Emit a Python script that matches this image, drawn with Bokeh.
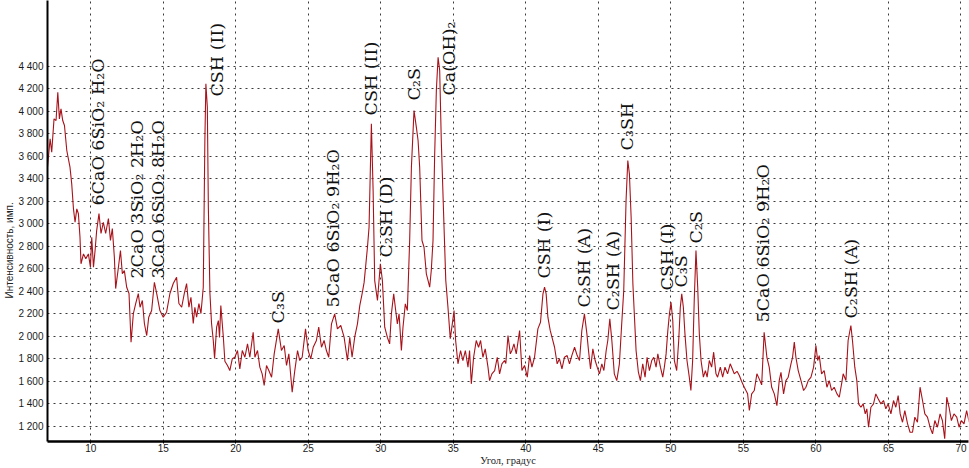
import math
from bokeh.plotting import figure
from bokeh.models import FixedTicker, Range1d, Title
from bokeh.core.properties import value
from bokeh.embed import file_html
from bokeh.resources import INLINE

# ---- data -----------------------------------------------------------------
two_theta = [
    7.02, 7.20, 7.31, 7.47, 7.61, 7.73, 7.84, 7.95, 8.07, 8.19, 8.35, 8.46, 8.57, 8.69, 8.81, 8.92,
    9.04, 9.15, 9.26, 9.33, 9.50, 9.66, 9.84, 9.98, 10.07, 10.19, 10.30, 10.41, 10.57, 10.71, 10.87,
    11.03, 11.22, 11.36, 11.49, 11.63, 11.72, 11.91, 12.05, 12.18, 12.32, 12.48, 12.64, 12.78, 12.94,
    13.10, 13.28, 13.40, 13.56, 13.70, 13.86, 14.00, 14.20, 14.39, 14.55, 14.77, 15.00, 15.23, 15.46,
    15.69, 15.92, 16.08, 16.27, 16.45, 16.61, 16.77, 16.91, 17.07, 17.18, 17.30, 17.46, 17.60, 17.76,
    17.87, 17.94, 18.04, 18.11, 18.22, 18.33, 18.45, 18.54, 18.68, 18.80, 18.88, 18.97, 19.14, 19.25,
    19.43, 19.59, 19.76, 19.94, 20.12, 20.28, 20.45, 20.63, 20.81, 20.97, 21.20, 21.32, 21.50, 21.66,
    21.82, 21.96, 22.12, 22.28, 22.47, 22.65, 22.93, 23.15, 23.34, 23.50, 23.66, 23.89, 24.07, 24.26,
    24.41, 24.58, 24.81, 24.99, 25.17, 25.34, 25.56, 25.72, 25.91, 26.09, 26.25, 26.41, 26.60, 26.82,
    27.01, 27.24, 27.47, 27.70, 27.86, 28.02, 28.20, 28.39, 28.55, 28.71, 28.85, 29.08, 29.19, 29.35,
    29.47, 29.58, 29.77, 29.97, 30.11, 30.27, 30.45, 30.61, 30.73, 30.89, 31.00, 31.14, 31.26, 31.42,
    31.53, 31.69, 31.83, 31.99, 32.11, 32.29, 32.45, 32.57, 32.68, 32.84, 32.98, 33.14, 33.26, 33.37,
    33.48, 33.60, 33.71, 33.83, 33.95, 34.06, 34.17, 34.36, 34.48, 34.63, 34.79, 34.93, 35.05, 35.16,
    35.32, 35.50, 35.66, 35.83, 36.01, 36.12, 36.24, 36.40, 36.58, 36.74, 36.88, 37.04, 37.20, 37.39,
    37.50, 37.66, 37.85, 38.03, 38.19, 38.35, 38.53, 38.62, 38.77, 38.93, 39.04, 39.18, 39.34, 39.57,
    39.73, 39.91, 40.10, 40.26, 40.42, 40.60, 40.83, 41.01, 41.18, 41.29, 41.40, 41.52, 41.68, 41.80,
    41.98, 42.16, 42.32, 42.49, 42.66, 42.85, 43.01, 43.17, 43.36, 43.54, 43.70, 43.86, 44.04, 44.21,
    44.32, 44.46, 44.62, 44.78, 44.92, 45.08, 45.24, 45.38, 45.54, 45.65, 45.79, 45.93, 46.10, 46.27,
    46.45, 46.61, 46.75, 46.91, 47.03, 47.14, 47.26, 47.38, 47.49, 47.60, 47.76, 47.90, 48.06, 48.22,
    48.36, 48.52, 48.68, 48.82, 48.98, 49.10, 49.28, 49.44, 49.55, 49.67, 49.79, 49.90, 50.01, 50.13,
    50.24, 50.40, 50.54, 50.65, 50.75, 50.86, 50.97, 51.11, 51.27, 51.38, 51.50, 51.61, 51.73, 51.85,
    51.96, 52.08, 52.24, 52.38, 52.50, 52.65, 52.81, 52.95, 53.11, 53.22, 53.41, 53.57, 53.73, 53.91,
    54.09, 54.37, 54.56, 54.72, 54.88, 55.06, 55.29, 55.41, 55.57, 55.75, 55.93, 56.09, 56.26, 56.43,
    56.62, 56.78, 56.95, 57.13, 57.31, 57.47, 57.59, 57.77, 57.93, 58.09, 58.28, 58.39, 58.51, 58.62,
    58.78, 58.97, 59.15, 59.31, 59.47, 59.66, 59.84, 60.00, 60.12, 60.23, 60.39, 60.57, 60.76, 60.92,
    61.08, 61.26, 61.45, 61.61, 61.77, 61.88, 62.07, 62.22, 62.41, 62.52, 62.68, 62.82, 62.94, 63.10,
    63.26, 63.40, 63.51, 63.63, 63.79, 63.97, 64.13, 64.29, 64.48, 64.66, 64.82, 64.98, 65.17, 65.35,
    65.51, 65.67, 65.81, 65.97, 66.13, 66.32, 66.49, 66.66, 66.82, 67.00, 67.18, 67.35, 67.51, 67.69,
    67.87, 68.04, 68.20, 68.38, 68.56, 68.72, 68.88, 69.02, 69.18, 69.34, 69.52, 69.71, 69.87, 70.03,
    70.21, 70.39, 70.57,
]
intensity = [
    3503, 3755, 3636, 3932, 3917, 4169, 3932, 4021, 3917, 3873, 3651, 3577, 3503, 3355, 3133, 3014,
    3133, 3089, 2881, 2645, 2733, 2689, 2733, 2614, 2881, 2614, 2763, 2940, 3091, 2914, 3014,
    2914, 3047, 2852, 2958, 2703, 2425, 2614, 2763, 2558, 2585, 2437, 2381, 1949, 2203,
    2292, 2381, 2259, 2319, 2115, 2008, 2171, 2230, 2481, 2381, 2230, 2171, 2215, 2381,
    2470, 2526, 2292, 2259, 2381, 2470, 2259, 2348, 2115, 2259, 2171, 2292, 2203, 2437,
    3740, 4243, 4036, 3147, 2381, 2115, 1964, 1805, 2082, 2141, 1990, 2274, 2000, 1780,
    1742, 1697, 1801, 1815, 1875, 1712, 1875, 1815, 1934, 1815, 2037, 1815, 1875, 1727,
    1668, 1564, 1742, 1697, 1638, 1845, 2067, 1875, 1919, 1742, 1845, 1505, 1697, 1875,
    1786, 1815, 2067, 1875, 1801, 1904, 1964, 2082, 1904, 1964, 1875, 1815, 2112, 2200,
    2067, 2097, 1993, 1786, 1993, 1815, 1993, 2112, 2274, 2378, 2480, 2792, 2970, 3888,
    3296, 2496, 2319, 2645, 2496, 2082, 1993, 1934, 2200, 2378, 2259, 2112, 2200, 1875,
    2082, 2289, 2230, 2852, 3503, 4006, 3858, 3740, 3503, 2852, 2792, 2556, 2496, 2437,
    2585, 2852, 3592, 4184, 4479, 4361, 3740, 2970, 2496, 2259, 1979, 2112, 2230, 1964,
    1757, 1875, 1786, 1875, 1727, 1875, 1579, 1815, 1964, 1904, 1964, 1815, 1890, 1727,
    1608, 1668, 1697, 1815, 1668, 1757, 1786, 1760, 2008, 1845, 1875, 1934, 1845, 2053,
    1697, 1742, 1638, 1830, 1727, 1815, 2067, 2126, 2378, 2437, 2378, 2171, 2053, 1993,
    1904, 1757, 1801, 1712, 1815, 1830, 1757, 1830, 1904, 1830, 1786, 2053, 2200, 2023,
    1875, 1712, 1890, 1786, 1727, 1668, 1757, 1697, 1875, 1964, 2156, 1964, 1668, 1608,
    1757, 2112, 2408, 3207, 3562, 3444, 3059, 2467, 2171, 1875, 1682, 1608, 1757, 1638,
    1815, 1697, 1786, 1815, 1727, 1845, 1727, 1638, 1727, 1845, 2053, 2200, 2304, 2141,
    1786, 1697, 1964, 2259, 2378, 2259, 2023, 1786, 1638, 1520, 1786, 2319, 2763, 2437,
    2023, 1786, 1638, 1697, 1638, 1786, 1727, 1860, 1668, 1638, 1727, 1638, 1727, 1668,
    1757, 1668, 1690, 1653, 1600, 1549, 1490, 1342, 1490, 1520, 1668, 1623, 1570, 2037,
    1815, 1727, 1549, 1490, 1386, 1608, 1682, 1490, 1608, 1638, 1757, 1815, 1949, 1815,
    1697, 1608, 1520, 1549, 1608, 1638, 1727, 1919, 1786, 1830, 1668, 1697, 1549, 1608,
    1520, 1549, 1490, 1460, 1579, 1668, 1608, 1964, 2097, 1964, 1727, 1608, 1401, 1371,
    1401, 1312, 1357, 1194, 1371, 1401, 1490, 1446, 1401, 1431, 1357, 1401, 1312, 1431,
    1371, 1475, 1312, 1238, 1342, 1224, 1149, 1149, 1283, 1238, 1549, 1431, 1312, 1283,
    1194, 1135, 1253, 1194, 1312, 1253, 1091, 1460, 1371, 1253, 1312, 1283, 1194, 1253,
    1224, 1342, 1238,
]

x_ticks = [10, 15, 20, 25, 30, 35, 40, 45, 50, 55, 60, 65, 70]
y_ticks = [1200, 1400, 1600, 1800, 2000, 2200, 2400, 2600, 2800, 3000, 3200, 3400,
           3600, 3800, 4000, 4200, 4400]

peak_labels = ["6CaO 6SiO₂ H₂O", "2CaO 3SiO₂ 2H₂O", "3CaO 6SiO₂ 8H₂O", "CSH (II)", "C₃S",
               "5CaO 6SiO₂ 9H₂O", "CSH (II)", "C₂SH (D)", "C₂S", "Ca(OH)₂", "CSH (I)",
               "C₂SH (A)", "C₂SH (A)", "C₃SH", "CSH (I)", "C₃S", "C₂S", "5CaO 6SiO₂ 9H₂O",
               "C₂SH (A)"]
peak_x = [10.53, 13.17, 14.61, 18.68, 22.88, 26.67, 29.35, 30.39, 32.31, 34.72, 41.27,
          44.02, 46.02, 46.98, 49.74, 50.70, 51.74, 56.35, 62.41]
peak_y = [3162, 2514, 2514, 4130, 2115, 2257, 3962, 2701, 4095, 4139, 2514,
          2257, 2230, 3651, 2408, 2434, 2825, 2124, 2159]

X_START, X_END = 7.02, 70.52
Y_START, Y_END = 1067, 4983

# ---- figure -----------------------------------------------------------------
p = figure(width=969, height=468,
           x_range=Range1d(X_START, X_END), y_range=Range1d(Y_START, Y_END),
           output_backend="svg", toolbar_location=None,
           min_border_left=46, min_border_right=1, min_border_top=0, min_border_bottom=27)
p.outline_line_color = None
p.background_fill_color = "white"
p.border_fill_color = "white"

p.xgrid.grid_line_color = "#3a3a3a"
p.xgrid.grid_line_dash = "dotted"
p.xgrid.grid_line_width = 1
p.ygrid.grid_line_color = "#3a3a3a"
p.ygrid.grid_line_dash = "dotted"
p.ygrid.grid_line_width = 1

p.line(two_theta, intensity, line_color="#a8121a", line_width=1.1)

p.text(x=peak_x, y=peak_y, text=peak_labels, angle=math.pi / 2,
       text_align="left", text_baseline="middle",
       text_font=value("DejaVu Serif"), text_font_size="17.5px", text_color="#111111")

# axes
p.xaxis.ticker = FixedTicker(ticks=x_ticks, minor_ticks=[])
p.yaxis.ticker = FixedTicker(ticks=y_ticks, minor_ticks=[])
p.xgrid.ticker = p.xaxis[0].ticker
p.ygrid.ticker = p.yaxis[0].ticker
p.yaxis.major_label_overrides = {t: f"{t:,}".replace(",", " ") for t in y_ticks}

for ax in (p.xaxis, p.yaxis):
    ax.axis_line_color = "black"
    ax.major_label_text_font = "Liberation Sans"
    ax.major_label_text_font_size = "10px"
    ax.major_label_text_color = "#1a1a1a"
    ax.minor_tick_line_color = None
p.xaxis.axis_line_width = 2.5
p.yaxis.axis_line_width = 2
p.xaxis.major_tick_out = 2
p.xaxis.major_tick_in = 0
p.xaxis.major_label_standoff = 0
p.yaxis.major_tick_out = 0
p.yaxis.major_tick_in = 0
p.yaxis.major_label_standoff = 4

p.xaxis.axis_label = "Угол, градус"
p.xaxis.axis_label_text_font = "Liberation Serif"
p.xaxis.axis_label_text_font_size = "10.5px"
p.xaxis.axis_label_text_font_style = "normal"
p.xaxis.axis_label_text_color = "#222222"
p.xaxis.axis_label_standoff = 0

p.add_layout(Title(text="Интенсивность, имп.", align="left", offset=143, standoff=2,
                   text_font="Liberation Sans", text_font_size="10px",
                   text_font_style="normal", text_color="#222222"), "left")

open("out.html", "w").write(file_html(p, INLINE))
